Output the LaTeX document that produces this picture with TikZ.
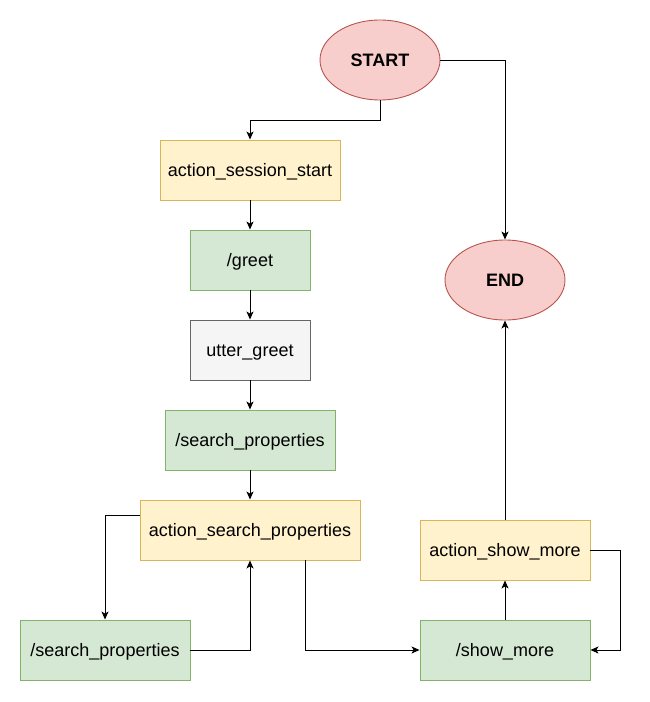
\documentclass[tikz,border=0pt]{standalone}
\usepackage{fontspec}
\setmainfont{Liberation Sans}
\usetikzlibrary{arrows.meta,shapes.geometric}
\definecolor{actfill}{HTML}{FFF2CC}
\definecolor{actline}{HTML}{D6B656}
\definecolor{intfill}{HTML}{D5E8D4}
\definecolor{intline}{HTML}{82B366}
\definecolor{endfill}{HTML}{F8CECC}
\definecolor{endline}{HTML}{B85450}
\definecolor{uttfill}{HTML}{F5F5F5}
\definecolor{uttline}{HTML}{666666}
\tikzset{
  box/.style={rectangle, draw, line width=0.9pt, minimum height=60pt, inner sep=0pt,
    text height=12pt, text depth=0pt, font=\fontsize{18}{21}\selectfont},
  actbox/.style={box, fill=actfill, draw=actline},
  intbox/.style={box, fill=intfill, draw=intline},
  uttbox/.style={box, fill=uttfill, draw=uttline},
  term/.style={ellipse, draw=endline, fill=endfill, line width=0.9pt,
    minimum width=120pt, minimum height=80pt, inner sep=0pt,
    text height=12pt, text depth=0pt, font=\fontsize{18}{21}\selectfont\bfseries},
  flow/.style={-{Stealth[length=8pt,width=7pt,inset=2pt]}, line width=1pt}
}
\begin{document}
\begin{tikzpicture}[x=1pt,y=-1pt]
  \useasboundingbox (0,0) rectangle (650,702);
  {
  % Start and end
  \node [term] (start) at (380,60) {START};
  \node [term] (end) at (505,280) {END};

  % Left column
  \node [actbox, minimum width=180pt] (sessionstart) at (250,170) {action\_session\_start};
  \node [intbox, minimum width=120pt] (greet) at (250,260) {/greet};
  \node [uttbox, minimum width=120pt] (uttergreet) at (250,350) {utter\_greet};
  \node [intbox, minimum width=170pt] (searchtop) at (250,440) {/search\_properties};
  \node [actbox, minimum width=220pt] (actsearch) at (250,530) {action\_search\_properties};
  \node [intbox, minimum width=170pt] (searchbot) at (105,650) {/search\_properties};

  % Right column
  \node [intbox, minimum width=170pt] (showmore) at (505,650) {/show\_more};
  \node [actbox, minimum width=170pt] (actshow) at (505,550) {action\_show\_more};

  % Connectors
  \draw [flow] (start.south) -- ++(0,20) -| (sessionstart.north);
  \draw [flow] (start.east) -| (end.north);
  \draw [flow] (sessionstart) -- (greet);
  \draw [flow] (greet) -- (uttergreet);
  \draw [flow] (uttergreet) -- (searchtop);
  \draw [flow] (searchtop) -- (actsearch);
  \draw [flow] ([yshift=15pt]actsearch.west) -| (searchbot.north);
  \draw [flow] (searchbot.east) -| (actsearch.south);
  \draw [flow] ([xshift=55pt]actsearch.south) |- (showmore.west);
  \draw [flow] (showmore) -- (actshow);
  \draw [flow] (actshow.east) -- ++(30,0) |- (showmore.east);
  \draw [flow] (actshow) -- (end);
  }
\end{tikzpicture}
\end{document}
